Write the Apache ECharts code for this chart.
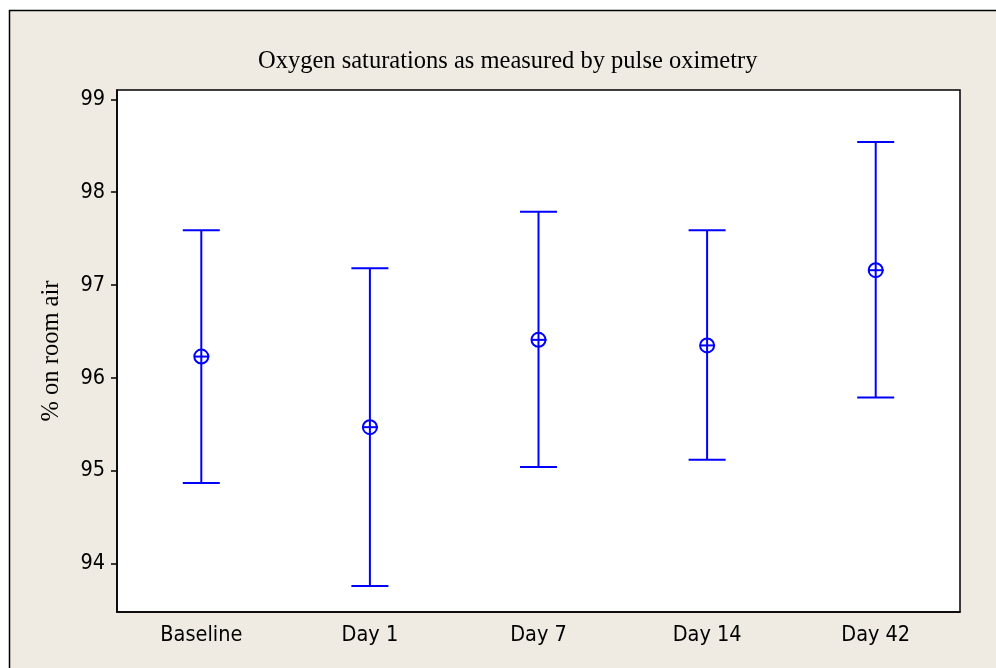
<!DOCTYPE html>
<html>
<head>
<meta charset="UTF-8">
<title>Oxygen saturations</title>
<script src="https://cdn.jsdelivr.net/npm/echarts@6/dist/echarts.min.js"></script>
<style>
  html, body { margin: 0; padding: 0; background: #fff; }
  #main { width: 996px; height: 668px; }
</style>
</head>
<body>
<div id="main"></div>
<script type="text/javascript">
// data
var categories = ['Baseline', 'Day 1', 'Day 7', 'Day 14', 'Day 42'];
var means  = [96.23, 95.47, 96.41, 96.35, 97.16];
var lowers = [94.87, 93.76, 95.04, 95.12, 95.79];
var uppers = [97.59, 97.18, 97.79, 97.59, 98.54];
var yTicks = [94, 95, 96, 97, 98, 99];

var blue = '#0000ff';

var seriesData = [];
for (var i = 0; i < categories.length; i++) {
  seriesData.push([i, means[i], lowers[i], uppers[i]]);
}

function renderBar(params, api) {
  var x = api.value(0);
  var mid = api.coord([x, api.value(1)]);
  var lo = api.coord([x, api.value(2)]);
  var hi = api.coord([x, api.value(3)]);
  var cap = 18.5, r = 7;
  var st = { stroke: blue, lineWidth: 2, fill: null };
  return {
    type: 'group',
    children: [
      { type: 'line', shape: { x1: lo[0], y1: lo[1], x2: hi[0], y2: hi[1] }, style: st },
      { type: 'line', shape: { x1: hi[0] - cap, y1: hi[1], x2: hi[0] + cap, y2: hi[1] }, style: st },
      { type: 'line', shape: { x1: lo[0] - cap, y1: lo[1], x2: lo[0] + cap, y2: lo[1] }, style: st },
      { type: 'circle', shape: { cx: mid[0], cy: mid[1], r: r }, style: { stroke: blue, lineWidth: 2, fill: 'rgba(0,0,0,0)' } },
      { type: 'line', shape: { x1: mid[0] - r, y1: mid[1], x2: mid[0] + r + 1, y2: mid[1] }, style: st }
    ]
  };
}

var myChart = echarts.init(document.getElementById('main'));
var option = {
  backgroundColor: '#ffffff',
  animation: false,
  graphic: [{
    type: 'rect',
    z: -10,
    silent: true,
    shape: { x: 9.5, y: 10.5, width: 1000, height: 700 },
    style: { fill: '#efebe2', stroke: '#000', lineWidth: 1.5 }
  }],
  title: {
    text: 'Oxygen saturations as measured by pulse oximetry',
    left: 253,
    top: 44,
    textStyle: { fontFamily: 'Liberation Serif', fontWeight: 'normal', fontSize: 24.5, color: '#000' }
  },
  grid: {
    left: 117, top: 90, right: 36, bottom: 56,
    show: true, backgroundColor: '#fff', borderColor: '#000', borderWidth: 1.5
  },
  xAxis: {
    type: 'category',
    data: categories,
    boundaryGap: true,
    axisLine: { lineStyle: { color: '#000', width: 1.5 } },
    axisTick: { alignWithLabel: true, length: 6, lineStyle: { color: '#000', width: 1.5 } },
    axisLabel: { margin: 12, color: '#000', fontFamily: 'DejaVu Sans Condensed', fontSize: 21.5 },
    splitLine: { show: false }
  },
  yAxis: {
    type: 'value',
    min: 93.48,
    max: 99.1,
    name: '% on room air',
    nameLocation: 'middle',
    nameGap: 53,
    nameRotate: 90,
    nameTextStyle: { fontFamily: 'Liberation Serif', fontSize: 24.5, color: '#000' },
    axisLine: { show: true, lineStyle: { color: '#000', width: 1.5 } },
    axisTick: { show: true, length: 6, customValues: yTicks, lineStyle: { color: '#000', width: 1.5 } },
    axisLabel: { margin: 12, customValues: yTicks, color: '#000', fontFamily: 'DejaVu Sans Condensed', fontSize: 21.5 },
    splitLine: { show: false }
  },
  series: [{
    type: 'custom',
    renderItem: renderBar,
    encode: { x: 0, y: [1, 2, 3] },
    data: seriesData
  }]
};
myChart.setOption(option);
</script>
</body>
</html>
